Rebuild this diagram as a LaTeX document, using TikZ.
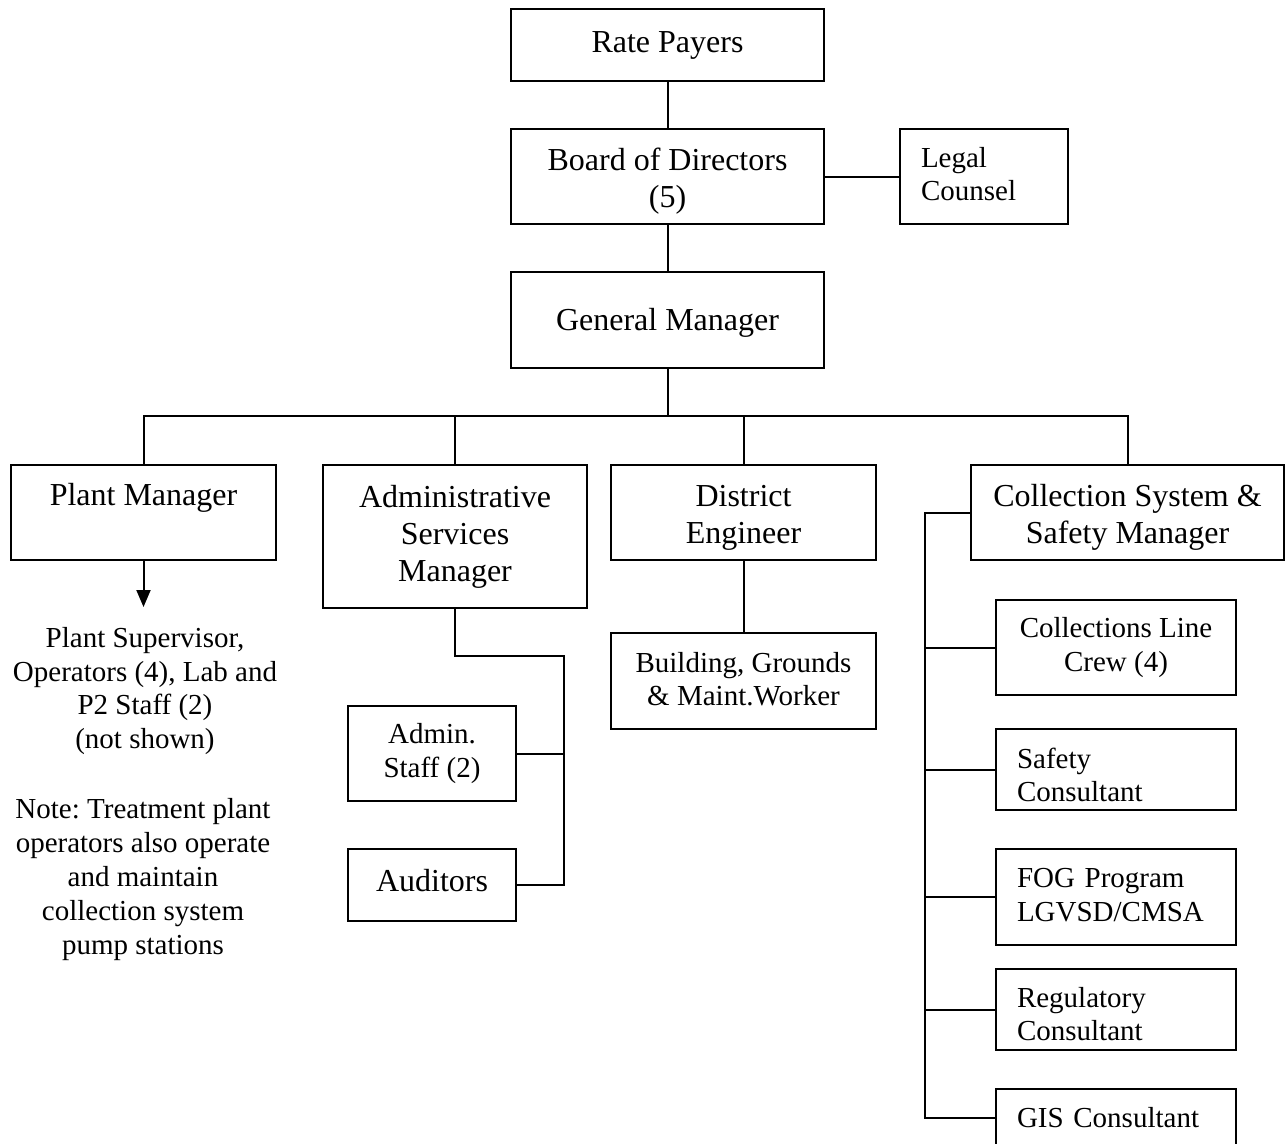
\documentclass[tikz,border=0pt]{standalone}
\usepackage{fontspec}
\setmainfont{Liberation Serif}
\usetikzlibrary{arrows.meta}
\frenchspacing
\newcommand\bigfnt{\fontsize{32}{37}\selectfont}
\newcommand\smallfnt{\fontsize{29}{33.5}\selectfont}
\newcommand\notefnt{\fontsize{29}{34.2}\selectfont}
% struts to nudge text vertically inside a box
\newcommand\up[1]{\rule{0pt}{#1pt}}
\newcommand\dn[1]{\rule[-#1pt]{0pt}{0pt}}
\tikzset{
  box/.style={draw, line width=2pt, inner sep=0pt, align=center, font=\bigfnt},
  sbox/.style={box, font=\smallfnt},
  lbox/.style={draw, line width=2pt, inner ysep=0pt, inner xsep=21pt, align=left, font=\smallfnt},
  conn/.style={line width=2pt},
  arr/.style={conn, -{Triangle[width=14pt,length=17pt]}},
  plain/.style={inner sep=0pt, align=center, font=\smallfnt}
}
\begin{document}
\begin{tikzpicture}[x=1pt,y=-1pt]
\useasboundingbox (0,0) rectangle (1286,1144);
\clip (0,0) rectangle (1286,1144);
% top chain
\node[box, minimum width=313pt, minimum height=72pt] (rp) at (667.5,45) {Rate Payers};
\node[box, minimum width=313pt, minimum height=95pt] (bod) at (667.5,176.5) {\up{32}Board of Directors\\(5)};
\node[lbox, text width=126pt, minimum height=95pt] (lc) at (984,176.5) {Legal\\Counsel\dn{5}};
\node[box, minimum width=313pt, minimum height=96pt] (gm) at (667.5,320) {\up{28}General Manager};
% managers
\node[box, minimum width=265pt, minimum height=95pt] (pm) at (143.5,512.5) {\up{34}Plant Manager\\\strut};
\node[box, minimum width=264pt, minimum height=143pt] (asm) at (455,536.5) {Administrative\\Services\\Manager};
\node[box, minimum width=265pt, minimum height=95pt] (de) at (743.5,512.5) {\up{31}District\\Engineer};
\node[box, minimum width=313pt, minimum height=95pt] (cs) at (1127.5,512.5) {\up{31}Collection System \&\\Safety Manager};
% plant
\node[plain] (pst) at (145,691) {Plant Supervisor,\\Operators (4), Lab and\\P2 Staff (2)\\(not shown)};
\node[plain, font=\notefnt] (note) at (143,879.5) {Note: Treatment plant\\operators also operate\\and maintain\\collection system\\pump stations};
\coordinate (pa) at (143.5,607);
% admin
\node[sbox, minimum width=168pt, minimum height=95pt] (as) at (432,753.5) {Admin.\\Staff (2)};
\node[box, minimum width=168pt, minimum height=72pt] (aud) at (432,885) {Auditors\dn{10}};
\coordinate (ab) at (564,656);
% district
\node[sbox, minimum width=265pt, minimum height=96pt] (bg) at (743.5,681) {Building, Grounds\\\& Maint.Worker\dn{4}};
% collection
\node[sbox, minimum width=240pt, minimum height=95pt] (clc) at (1116,647.5) {Collections Line\\Crew (4)};
\node[lbox, text width=198pt, minimum height=81pt] (sc) at (1116,769.5) {\up{31}Safety\\Consultant};
\node[lbox, text width=198pt, minimum height=96pt] (fog) at (1116,897) {FOG Program\\LGVSD/CMSA\dn{4}};
\node[lbox, text width=198pt, minimum height=81pt] (reg) at (1116,1009.5) {\up{29}Regulatory\\Consultant};
\node[lbox, text width=198pt, minimum height=57pt] (gis) at (1116,1117.5) {GIS Consultant};
\coordinate (cv) at (925,0);
\coordinate (j) at (667.5,416);
% connectors
\draw[conn] (rp.south) -- (bod.north);
\draw[conn] (bod.east) -- (lc.west);
\draw[conn] (bod.south) -- (gm.north);
\draw[conn] (gm.south) -- (j);
\draw[conn] (pm.north) |- (j);
\draw[conn] (cs.north) |- (j);
\draw[conn] (asm.north) -- (asm.north |- j);
\draw[conn] (de.north) -- (de.north |- j);
\draw[arr] (pm.south) -- (pa);
\draw[conn] (asm.south) |- (ab) -- (ab |- aud.east) -- (aud.east);
\draw[conn] (as.east) -- (as.east -| ab);
\draw[conn] (de.south) -- (bg.north);
\draw[conn] (cs.west) -| (cv |- gis.west) -- (gis.west);
\draw[conn] (clc.west) -- (clc.west -| cv);
\draw[conn] (sc.west) -- (sc.west -| cv);
\draw[conn] (fog.west) -- (fog.west -| cv);
\draw[conn] (reg.west) -- (reg.west -| cv);
\end{tikzpicture}
\end{document}
